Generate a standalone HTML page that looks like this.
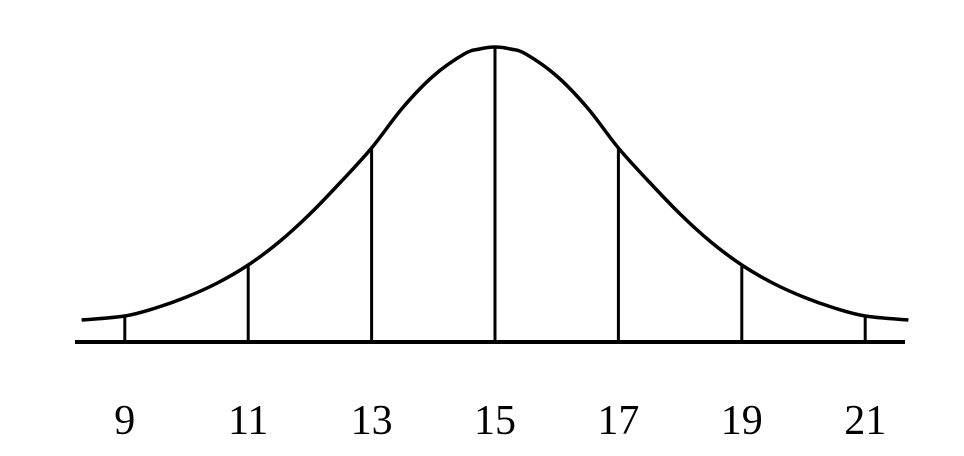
<!DOCTYPE html>
<html><head><meta charset="utf-8"><style>
html,body{margin:0;padding:0;background:#fff;}
svg{display:block;}
</style></head><body>
<svg id="chart" width="964" height="456" xmlns="http://www.w3.org/2000/svg"></svg>
<script>
const tickValues=[9,11,13,15,17,19,21];
const tickLabels=["9","11","13","15","17","19","21"];
const curveX=[8.3,9,9.5,10,10.5,11,11.5,12,12.5,13,13.5,14,14.5,14.75,15,15.25,15.5,16,16.5,17,17.5,18,18.5,19,19.5,20,20.5,21,21.7];
const curveH=[22,26,34,45,59,77,100,128,160,194,234,266,288,293,295,293,288,266,234,194,160,128,100,77,59,45,34,26,22];
const NS="http://www.w3.org/2000/svg";
const svg=document.getElementById('chart');
const baseY=342, hScale=1;
function xs(v){return 495+(v-15)*61.7;}
function ys(h){return baseY-h*hScale;}
function mk(tag,attrs){const e=document.createElementNS(NS,tag);for(const k in attrs)e.setAttribute(k,attrs[k]);svg.appendChild(e);return e;}
const base=mk('line',{x1:75,y1:baseY,x2:905,y2:baseY,stroke:'#000','stroke-width':4});


const pts=curveX.map((v,i)=>[xs(v),ys(curveH[i])]);
let d=`M${pts[0][0]},${pts[0][1]}`;
for(let i=0;i<pts.length-1;i++){
 const p0=pts[Math.max(0,i-1)],p1=pts[i],p2=pts[i+1],p3=pts[Math.min(pts.length-1,i+2)];
 const c1=[p1[0]+(p2[0]-p0[0])/6,p1[1]+(p2[1]-p0[1])/6];
 const c2=[p2[0]-(p3[0]-p1[0])/6,p2[1]-(p3[1]-p1[1])/6];
 d+=` C${c1[0]},${c1[1]} ${c2[0]},${c2[1]} ${p2[0]},${p2[1]}`;
}
const curve=mk('path',{d:d,fill:'none',stroke:'#000','stroke-width':3.5});


function curveAt(v){
 for(let i=0;i<curveX.length-1;i++){
  if(v>=curveX[i]&&v<=curveX[i+1]){const t=(v-curveX[i])/(curveX[i+1]-curveX[i]);return curveH[i]+t*(curveH[i+1]-curveH[i]);}
 }return 0;
}
tickValues.forEach((v,i)=>{
 const ln=mk('line',{x1:xs(v),y1:baseY,x2:xs(v),y2:ys(curveAt(v)),stroke:'#000','stroke-width':3});
 
 
 const t=mk('text',{x:xs(v),y:434,'text-anchor':'middle','font-family':'"Liberation Serif",serif','font-size':42,fill:'#000'});
 t.textContent=tickLabels[i];
 
 
});
</script>
</body></html>
